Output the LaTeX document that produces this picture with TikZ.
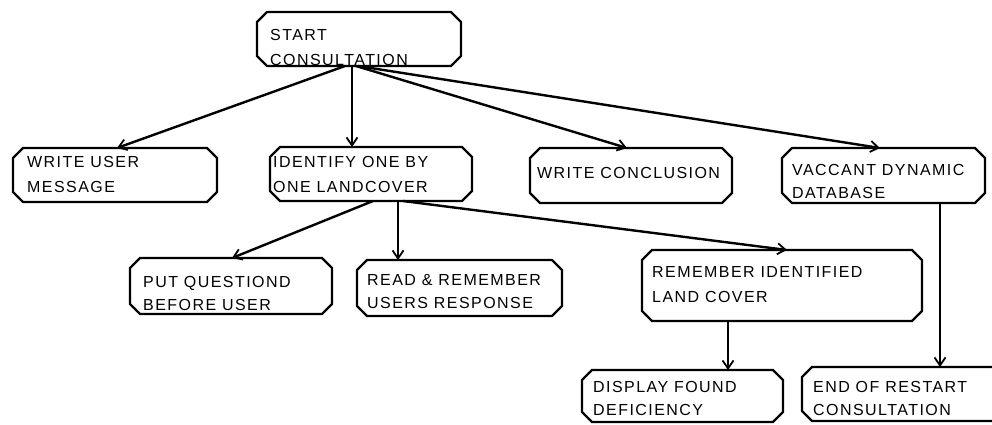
\documentclass[tikz,border=0pt]{standalone}
\usepackage{fontspec}
\setmainfont{Liberation Sans}[LetterSpace=9]
\usetikzlibrary{shapes.misc,fit,arrows.meta}
\tikzset{
  box/.style={draw, line width=2.4pt, chamfered rectangle, chamfered rectangle xsep=5pt, chamfered rectangle ysep=5pt, inner sep=0pt, outer sep=0pt},
  lbl/.style={anchor=base west, inner sep=0pt, font=\fontsize{16}{18}\selectfont},
  conn/.style={line width=2.4pt, -{Straight Barb[length=8pt,width=11pt,line width=1.8pt]}}
}
\begin{document}
\begin{tikzpicture}[x=1pt,y=-1pt]
\clip (0,0) rectangle (992,424);
\fill[white] (0,0) rectangle (992,424);
% boxes (fit points inset by the chamfer size, 5pt)
\node[box, fit={(262,17) (456,61)}] (start) {};
\node[box, fit={(18,153) (212,197)}] (user) {};
\node[box, fit={(275,152) (467,196)}] (ident) {};
\node[box, fit={(535,153) (727,198)}] (conc) {};
\node[box, fit={(787,153) (980,198)}] (vacc) {};
\node[box, fit={(135,263) (327,309)}] (put) {};
\node[box, fit={(362,265) (557,311)}] (read) {};
\node[box, fit={(647,255) (917,316)}] (remid) {};
\node[box, fit={(587,375) (778,417)}] (disp) {};
\node[box, fit={(807,372) (1005,416)}] (endc) {};
% texts
\node[lbl] (t1a) at (270,40) {START};
\node[lbl] (t1b) at (270,65) {CONSULTATION};
\node[lbl] (t2a) at (27,167) {WRITE USER};
\node[lbl] (t2b) at (27,192) {MESSAGE};
\node[lbl] (t3a) at (273,167) {IDENTIFY ONE BY};
\node[lbl] (t3b) at (273,192) {ONE LANDCOVER};
\node[lbl] (t4a) at (537,178) {WRITE CONCLUSION};
\node[lbl] (t5a) at (792,175) {VACCANT DYNAMIC};
\node[lbl] (t5b) at (792,198) {DATABASE};
\node[lbl] (t6a) at (143,287) {PUT QUESTIOND};
\node[lbl] (t6b) at (143,310) {BEFORE USER};
\node[lbl] (t7a) at (367,285) {READ \& REMEMBER};
\node[lbl] (t7b) at (367,308) {USERS RESPONSE};
\node[lbl] (t8a) at (652,277) {REMEMBER IDENTIFIED};
\node[lbl] (t8b) at (652,302) {LAND COVER};
\node[lbl] (t9a) at (593,392) {DISPLAY FOUND};
\node[lbl] (t9b) at (593,415) {DEFICIENCY};
\node[lbl] (t10a) at (813,392) {END OF RESTART};
\node[lbl] (t10b) at (813,415) {CONSULTATION};
% connectors
\draw[conn] ([xshift=-14pt]start.south) -- ([xshift=2pt]user.north);
\draw[conn] ([xshift=-7pt]start.south) -- ([xshift=-19pt]ident.north);
\draw[conn] ([xshift=-3pt]start.south) -- ([xshift=-4pt]conc.north);
\draw[conn] ([xshift=-1pt]start.south) -- ([xshift=-3.5pt]vacc.north);
\draw[conn] ([xshift=2pt]ident.south) -- ([xshift=1pt]put.north);
\draw[conn] ([xshift=27pt]ident.south) -- ([xshift=-61.5pt]read.north);
\draw[conn] ([xshift=32pt]ident.south) -- ([xshift=5pt]remid.north);
\draw[conn] ([xshift=-54pt]remid.south) -- ([xshift=45.5pt]disp.north);
\draw[conn] ([xshift=56.5pt]vacc.south) -- ([xshift=34pt]endc.north);
\end{tikzpicture}
\end{document}
